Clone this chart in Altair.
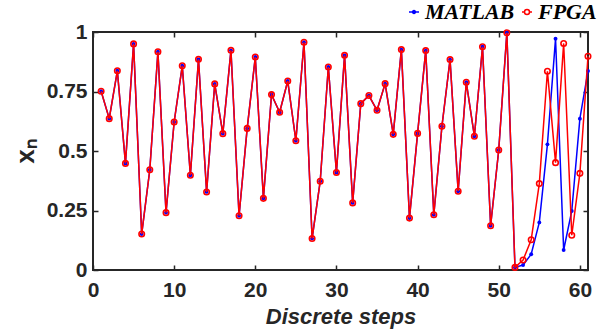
import altair as alt
import pandas as pd

steps = list(range(1, 62))
matlab = [0.751, 0.636, 0.837, 0.448, 0.950, 0.151, 0.421, 0.917, 0.241, 0.622,
          0.858, 0.398, 0.885, 0.328, 0.782, 0.573, 0.923, 0.228, 0.595, 0.895,
          0.301, 0.737, 0.663, 0.794, 0.543, 0.957, 0.132, 0.373, 0.853, 0.410,
          0.902, 0.282, 0.699, 0.733, 0.671, 0.783, 0.570, 0.926, 0.218, 0.574,
          0.922, 0.232, 0.604, 0.884, 0.331, 0.789, 0.562, 0.938, 0.186, 0.504,
          0.997, 0.011, 0.021, 0.066, 0.200, 0.528, 0.972, 0.084, 0.248, 0.636,
          0.836]
fpga = [0.751, 0.636, 0.837, 0.448, 0.950, 0.151, 0.421, 0.917, 0.241, 0.622,
        0.858, 0.398, 0.885, 0.328, 0.782, 0.573, 0.923, 0.228, 0.595, 0.895,
        0.301, 0.737, 0.663, 0.794, 0.543, 0.957, 0.132, 0.373, 0.853, 0.410,
        0.902, 0.282, 0.699, 0.733, 0.671, 0.783, 0.570, 0.926, 0.218, 0.574,
        0.922, 0.232, 0.604, 0.884, 0.331, 0.789, 0.562, 0.938, 0.186, 0.504,
        0.997, 0.011, 0.042, 0.127, 0.363, 0.835, 0.451, 0.952, 0.146, 0.406,
        0.898]
series_names = ["MATLAB", "FPGA"]
series_colors = ["#0000ff", "#ff0000"]
x_ticks = [0, 10, 20, 30, 40, 50, 60]
y_ticks = [0, 0.25, 0.5, 0.75, 1]
x_title = "Discrete steps"
y_title = "xₙ"

df = pd.DataFrame({
    "step": steps + steps,
    "value": matlab + fpga,
    "series": [series_names[0]] * len(steps) + [series_names[1]] * len(steps),
})

AX = "#262626"
TL = 5
SANS = "Liberation Sans"
BLUE, RED = series_colors

x_scale = alt.Scale(domain=[0, 61], nice=False, zero=False)
y_scale = alt.Scale(domain=[0, 1], nice=False)
color_scale = alt.Scale(domain=series_names, range=series_colors)

# inward ticks: shift each axis into the plot by the tick length
common_axis = dict(domain=False, grid=False, tickSize=TL, ticks=True,
                   tickColor=AX, tickWidth=1.5, labelFlush=False,
                   labelOverlap=False, offset=-TL)

ax_bottom = alt.Axis(orient="bottom", values=x_ticks, labelFont=SANS,
                     labelFontSize=21, labelFontWeight="bold", labelColor=AX,
                     labelPadding=9, title=x_title, titleFont=SANS,
                     titleFontSize=22, titleFontWeight="bold",
                     titleFontStyle="italic", titleColor=AX, titlePadding=6,
                     **common_axis)
ax_top = alt.Axis(orient="top", values=x_ticks, labels=False, title=None,
                  **common_axis)
ax_left = alt.Axis(orient="left", values=y_ticks, format=".2~f", labelFont=SANS,
                   labelFontSize=21, labelFontWeight="bold", labelColor=AX,
                   labelPadding=6, title=y_title, titleFont=SANS,
                   titleFontSize=26, titleFontWeight="bold", titleColor=AX,
                   titlePadding=8, **common_axis)
ax_right = alt.Axis(orient="right", values=y_ticks, labels=False, title=None,
                    **common_axis)

PATH_M = "M-1,0L1,0M0.3,0A0.3,0.3,0,1,1,-0.3,0A0.3,0.3,0,1,1,0.3,0"
PATH_F = "M-1,0L-0.5,0M0.5,0L1,0M0.5,0A0.5,0.5,0,1,1,-0.5,0A0.5,0.5,0,1,1,0.5,0"

legend = alt.Legend(
    title=None, orient="none", legendX=310, legendY=-31,
    direction="horizontal", labelFont="Liberation Serif", labelFontSize=22,
    labelFontWeight="bold", labelFontStyle="italic", labelColor="black",
    columnPadding=1, labelOffset=0, padding=0,
)

base = alt.Chart(df)
m = base.transform_filter(alt.datum.series == "MATLAB")
f = base.transform_filter(alt.datum.series == "FPGA")

l1 = m.mark_line(strokeWidth=1.5, color=BLUE).encode(
    x=alt.X("step:Q", scale=x_scale, axis=ax_bottom),
    y=alt.Y("value:Q", scale=y_scale, axis=ax_left),
)
l2 = m.mark_point(filled=True, size=15, opacity=1, color=BLUE).encode(
    x=alt.X("step:Q", scale=x_scale, axis=None),
    y=alt.Y("value:Q", scale=y_scale, axis=None),
)
l3 = f.mark_line(strokeWidth=1.5, color=RED).encode(
    x=alt.X("step:Q", scale=x_scale, axis=ax_top),
    y=alt.Y("value:Q", scale=y_scale, axis=ax_right),
)
l4 = f.mark_point(filled=False, size=30, strokeWidth=1.6, opacity=1, color=RED).encode(
    x=alt.X("step:Q", scale=x_scale, axis=None),
    y=alt.Y("value:Q", scale=y_scale, axis=None),
)
# legend-only layer (no rows drawn): line-with-marker key symbols
l5 = base.transform_filter("false").mark_point(
    filled=False, size=200, strokeWidth=1.5, opacity=1
).encode(
    x=alt.X("step:Q", scale=x_scale, axis=None),
    y=alt.Y("value:Q", scale=y_scale, axis=None),
    color=alt.Color("series:N", scale=color_scale, legend=legend),
    shape=alt.Shape("series:N", scale=alt.Scale(domain=series_names, range=[PATH_M, PATH_F]), legend=legend),
    fill=alt.Fill("series:N", scale=alt.Scale(domain=series_names, range=[BLUE, "#ffffff"]), legend=legend),
)

chart = alt.layer(l1, l2, l3, l4, l5).resolve_axis(
    x="independent", y="independent"
).properties(
    width=495, height=238,
    autosize=alt.AutoSizeParams(type="none"),
    padding={"left": 93, "top": 32, "right": 17, "bottom": 65},
    background="white",
).configure_view(stroke=AX, strokeWidth=2)

chart.save("out.html", embed_options={"renderer": "svg", "actions": False})
